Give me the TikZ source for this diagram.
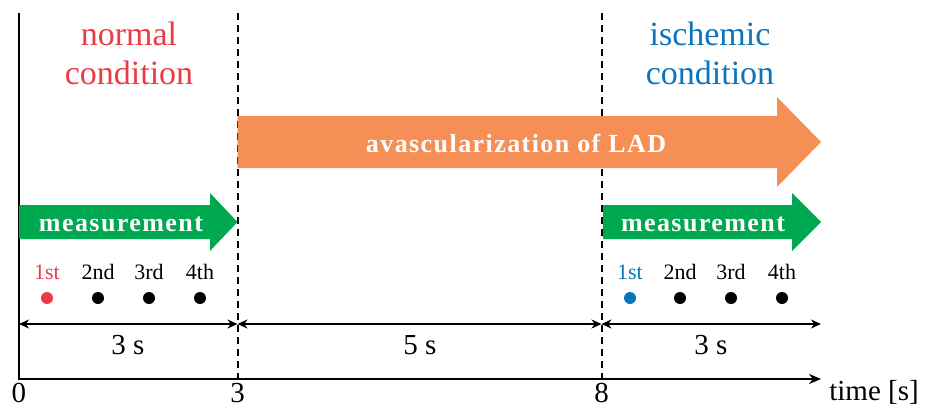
\documentclass[tikz,border=0pt]{standalone}
\usepackage{fontspec}
\setmainfont{Liberation Serif}
\newfontfamily\boldspaced[LetterSpace=5.5]{Liberation Serif Bold}
\usetikzlibrary{arrows.meta,shapes.arrows}
\definecolor{normred}{RGB}{236,59,69}
\definecolor{ischblue}{RGB}{10,117,188}
\definecolor{measgreen}{RGB}{0,168,80}
\definecolor{avasorange}{RGB}{245,143,86}
\tikzset{
  axisline/.style={line width=2.2pt},
  phase/.style={line width=2pt, dash pattern=on 7pt off 5pt},
  span/.style={line width=1.7pt, {Stealth[length=10pt,width=9pt]}-{Stealth[length=10pt,width=9pt]}},
  label/.style={font=\fontsize{29}{32}\selectfont, inner sep=0pt},
  cond/.style={font=\fontsize{34}{39}\selectfont, align=center, inner sep=0pt},
  ord/.style={font=\fontsize{22}{24}\selectfont, inner sep=0pt},
  dotmark/.style={circle, fill=black, minimum size=12pt, inner sep=0pt},
  banner/.style={text=white, font=\boldspaced\fontsize{26}{28}\selectfont, inner sep=0pt},
}
\begin{document}
\begin{tikzpicture}[x=1pt, y=-1pt]
\useasboundingbox (0,0) rectangle (931,407);

% time axis and left border
\coordinate (top0) at (19,13);
\coordinate (org) at (19,379);
\coordinate (tend) at (821,379);
\draw[axisline, -{Stealth[length=12pt,width=10pt]}] (top0) -- (org) -- (tend);

% phase boundaries
\coordinate (top3) at (237.5,13);
\coordinate (bot3) at (237.5,379);
\coordinate (top8) at (601.5,13);
\coordinate (bot8) at (601.5,379);
\draw[phase] (top3) -- (bot3);
\draw[phase] (top8) -- (bot8);

% tick labels
\node[label] (t0) at (19,393) {0};
\node[label] (t3) at (237.5,393) {3};
\node[label] (t8) at (601.5,393) {8};
\node[label] (tl) at (874,392) {time [s]};

% duration spans
\coordinate (d0) at (19,324);
\coordinate (d3) at (237.5,324);
\coordinate (d8) at (601.5,324);
\coordinate (d11) at (821,324);
\draw[span] (d0) -- (d3);
\draw[span] (d3) -- (d8);
\draw[span] (d8) -- (d11);
\node[label] (s1) at (128,345) {3 s};
\node[label] (s2) at (420,345) {5 s};
\node[label] (s3) at (711,345) {3 s};

% condition headings
\node[cond, text=normred] (nc) at (129,53) {normal\\condition};
\node[cond, text=ischblue] (ic) at (710,53) {ischemic\\condition};

% block arrows
\fill[avasorange] (237.5,116) -- (777,116) -- (777,97) -- (821,142) -- (777,187) -- (777,168) -- (237.5,168) -- cycle;
\node[banner] (av) at (516,144) {avascularization of LAD};

\fill[measgreen] (19,205) -- (210,205) -- (210,193) -- (237.5,222) -- (210,251) -- (210,239) -- (19,239) -- cycle;
\node[banner] (m1) at (121,224) {measurement};

\fill[measgreen] (603,205) -- (792,205) -- (792,193) -- (821,222) -- (792,251) -- (792,239) -- (603,239) -- cycle;
\node[banner] (m2) at (703,224) {measurement};

% measurement instants
\foreach \x/\t/\c [count=\i] in {47/1st/normred, 98/2nd/black, 149/3rd/black, 200/4th/black} {
  \node[ord, text=\c] (la\i) at (\x,272) {\t};
  \node[dotmark, fill=\c] (pa\i) at (\x,298) {};
}
\foreach \x/\t/\c [count=\i] in {630/1st/ischblue, 680/2nd/black, 731/3rd/black, 782/4th/black} {
  \node[ord, text=\c] (lb\i) at (\x,272) {\t};
  \node[dotmark, fill=\c] (pb\i) at (\x,298) {};
}
\end{tikzpicture}
\end{document}
